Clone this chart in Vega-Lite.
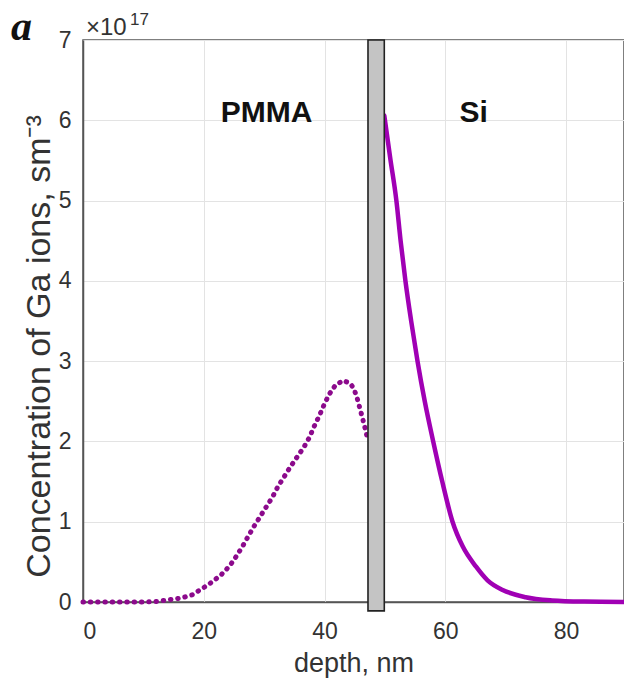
{
  "$schema": "https://vega.github.io/schema/vega-lite/v6.json",
  "autosize": {"type": "none"},
  "padding": {"left": 83, "top": 40, "right": 0, "bottom": 80},
  "width": 541,
  "height": 562,
  "background": "white",
  "config": {
    "view": {"stroke": "#555", "strokeWidth": 1.5},
    "axis": {"labelFont": "Liberation Sans", "titleFont": "Liberation Sans", "labelColor": "#333", "titleColor": "#333", "titleFontWeight": "normal", "domainColor": "#555", "domainWidth": 1.5, "gridColor": "#e3e3e3", "gridWidth": 1, "ticks": false}
  },
  "datasets": {
    "curves": [
      {"depth": 0, "conc": 0, "part": "PMMA"},
      {"depth": 2, "conc": 0, "part": "PMMA"},
      {"depth": 4, "conc": 0, "part": "PMMA"},
      {"depth": 6, "conc": 0, "part": "PMMA"},
      {"depth": 8, "conc": 0, "part": "PMMA"},
      {"depth": 10, "conc": 0, "part": "PMMA"},
      {"depth": 12, "conc": 0.005, "part": "PMMA"},
      {"depth": 14.4, "conc": 0.03, "part": "PMMA"},
      {"depth": 16.3, "conc": 0.05, "part": "PMMA"},
      {"depth": 18.1, "conc": 0.09, "part": "PMMA"},
      {"depth": 19.8, "conc": 0.17, "part": "PMMA"},
      {"depth": 21.4, "conc": 0.25, "part": "PMMA"},
      {"depth": 22.9, "conc": 0.34, "part": "PMMA"},
      {"depth": 24.3, "conc": 0.45, "part": "PMMA"},
      {"depth": 25.4, "conc": 0.57, "part": "PMMA"},
      {"depth": 26.4, "conc": 0.69, "part": "PMMA"},
      {"depth": 27.3, "conc": 0.81, "part": "PMMA"},
      {"depth": 28.3, "conc": 0.94, "part": "PMMA"},
      {"depth": 29.3, "conc": 1.06, "part": "PMMA"},
      {"depth": 30.4, "conc": 1.19, "part": "PMMA"},
      {"depth": 31.4, "conc": 1.31, "part": "PMMA"},
      {"depth": 32.3, "conc": 1.44, "part": "PMMA"},
      {"depth": 33.4, "conc": 1.57, "part": "PMMA"},
      {"depth": 34.4, "conc": 1.69, "part": "PMMA"},
      {"depth": 35.5, "conc": 1.81, "part": "PMMA"},
      {"depth": 36.6, "conc": 1.93, "part": "PMMA"},
      {"depth": 37.5, "conc": 2.05, "part": "PMMA"},
      {"depth": 38.3, "conc": 2.19, "part": "PMMA"},
      {"depth": 39.2, "conc": 2.33, "part": "PMMA"},
      {"depth": 40.0, "conc": 2.47, "part": "PMMA"},
      {"depth": 40.8, "conc": 2.59, "part": "PMMA"},
      {"depth": 41.8, "conc": 2.7, "part": "PMMA"},
      {"depth": 43.1, "conc": 2.76, "part": "PMMA"},
      {"depth": 44.3, "conc": 2.72, "part": "PMMA"},
      {"depth": 44.9, "conc": 2.65, "part": "PMMA"},
      {"depth": 45.4, "conc": 2.54, "part": "PMMA"},
      {"depth": 45.9, "conc": 2.4, "part": "PMMA"},
      {"depth": 46.4, "conc": 2.26, "part": "PMMA"},
      {"depth": 46.9, "conc": 2.11, "part": "PMMA"},
      {"depth": 47.2, "conc": 2.0, "part": "PMMA"},
      {"depth": 49.9, "conc": 6.06, "part": "Si"},
      {"depth": 50.9, "conc": 5.52, "part": "Si"},
      {"depth": 51.9, "conc": 5.0, "part": "Si"},
      {"depth": 52.6, "conc": 4.5, "part": "Si"},
      {"depth": 53.4, "conc": 4.0, "part": "Si"},
      {"depth": 54.35, "conc": 3.5, "part": "Si"},
      {"depth": 55.4, "conc": 3.0, "part": "Si"},
      {"depth": 56.6, "conc": 2.5, "part": "Si"},
      {"depth": 58.0, "conc": 2.0, "part": "Si"},
      {"depth": 59.5, "conc": 1.5, "part": "Si"},
      {"depth": 61.2, "conc": 1.0, "part": "Si"},
      {"depth": 62.9, "conc": 0.69, "part": "Si"},
      {"depth": 65.1, "conc": 0.44, "part": "Si"},
      {"depth": 67.0, "conc": 0.27, "part": "Si"},
      {"depth": 69.5, "conc": 0.15, "part": "Si"},
      {"depth": 73.3, "conc": 0.06, "part": "Si"},
      {"depth": 77.7, "conc": 0.02, "part": "Si"},
      {"depth": 83.0, "conc": 0.005, "part": "Si"},
      {"depth": 89.6, "conc": 0.0, "part": "Si"}
    ],
    "interface": [{"x1": 47.2, "x2": 49.9, "y1": -0.11, "y2": 7}],
    "labels": [
      {"depth": 30.4, "conc": 5.98, "label": "PMMA"},
      {"depth": 64.7, "conc": 5.98, "label": "Si"}
    ],
    "corner": [{"depth": 0, "conc": 7}]
  },
  "layer": [
    {
      "data": {"name": "curves"},
      "transform": [{"filter": "datum.part === 'PMMA'"}],
      "mark": {"type": "line", "color": "#8c0a8c", "strokeWidth": 5, "strokeDash": [0.5, 6.8], "strokeCap": "round"},
      "encoding": {
        "x": {"field": "depth", "type": "quantitative", "scale": {"domain": [0, 89.6], "nice": false, "zero": false}, "axis": {"values": [0, 20, 40, 60, 80], "title": "depth, nm", "labelFontSize": 23, "labelPadding": 18, "titleFontSize": 27, "titlePadding": 7, "grid": true}},
        "y": {"field": "conc", "type": "quantitative", "scale": {"domain": [0, 7], "nice": false}, "axis": {"values": [0, 1, 2, 3, 4, 5, 6, 7], "format": "d", "title": "Concentration of Ga ions, sm⁻³", "labelFontSize": 23, "labelPadding": 12, "titleFontSize": 34, "titlePadding": 2, "titleY": 306, "grid": true}}
      }
    },
    {
      "data": {"name": "curves"},
      "transform": [{"filter": "datum.part === 'Si'"}],
      "mark": {"type": "line", "color": "#a000b4", "strokeWidth": 4.5, "strokeCap": "round", "strokeJoin": "round", "interpolate": "monotone"},
      "encoding": {
        "x": {"field": "depth", "type": "quantitative"},
        "y": {"field": "conc", "type": "quantitative"}
      }
    },
    {
      "data": {"name": "interface"},
      "mark": {"type": "rect", "fill": "#c4c4c4", "stroke": "#222", "strokeWidth": 1.6, "clip": false},
      "encoding": {
        "x": {"field": "x1", "type": "quantitative"},
        "x2": {"field": "x2"},
        "y": {"field": "y1", "type": "quantitative"},
        "y2": {"field": "y2"}
      }
    },
    {
      "data": {"name": "labels"},
      "mark": {"type": "text", "font": "Liberation Sans", "fontWeight": "bold", "fontSize": 30, "color": "#111", "align": "center", "baseline": "alphabetic"},
      "encoding": {
        "x": {"field": "depth", "type": "quantitative"},
        "y": {"field": "conc", "type": "quantitative"},
        "text": {"field": "label"}
      }
    },
    {
      "data": {"name": "corner"},
      "mark": {"type": "text", "text": "×10", "font": "Liberation Sans", "fontSize": 24, "color": "#333", "align": "left", "baseline": "alphabetic", "dx": 3, "dy": -5, "clip": false},
      "encoding": {
        "x": {"field": "depth", "type": "quantitative"},
        "y": {"field": "conc", "type": "quantitative"}
      }
    },
    {
      "data": {"name": "corner"},
      "mark": {"type": "text", "text": "17", "font": "Liberation Sans", "fontSize": 17, "color": "#333", "align": "left", "baseline": "alphabetic", "dx": 47, "dy": -15, "clip": false},
      "encoding": {
        "x": {"field": "depth", "type": "quantitative"},
        "y": {"field": "conc", "type": "quantitative"}
      }
    },
    {
      "data": {"name": "corner"},
      "mark": {"type": "text", "text": "a", "font": "Liberation Serif", "fontStyle": "italic", "fontWeight": "bold", "fontSize": 42, "color": "#111", "align": "left", "baseline": "alphabetic", "dx": -72, "dy": 0, "clip": false},
      "encoding": {
        "x": {"field": "depth", "type": "quantitative"},
        "y": {"field": "conc", "type": "quantitative"}
      }
    }
  ]
}
